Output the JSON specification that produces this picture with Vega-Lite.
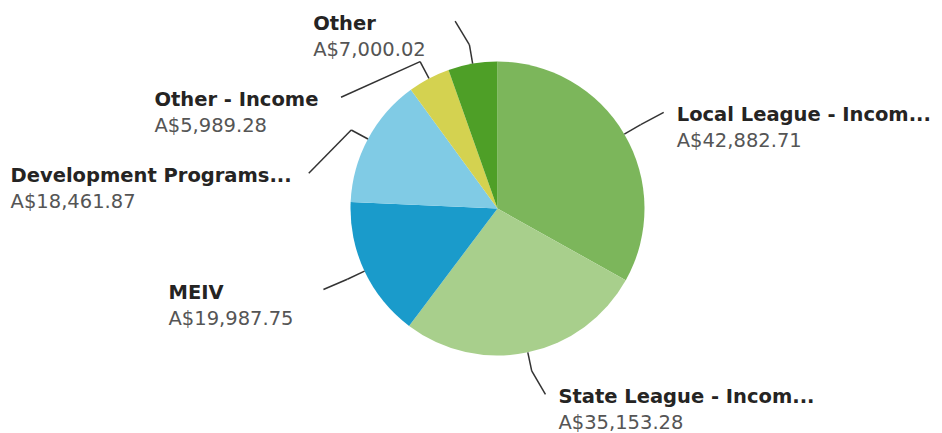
{
  "$schema": "https://vega.github.io/schema/vega-lite/v6.json",
  "width": 942,
  "height": 433,
  "autosize": {"type": "none"},
  "padding": 0,
  "background": "white",
  "config": {"view": {"stroke": null}},
  "data": {"values": [
    {"name": "Local League - Incom...", "value": 42882.71},
    {"name": "State League - Incom...", "value": 35153.28},
    {"name": "MEIV", "value": 19987.75},
    {"name": "Development Programs...", "value": 18461.87},
    {"name": "Other - Income", "value": 5989.28},
    {"name": "Other", "value": 7000.02}
  ]},
  "transform": [
    {"window": [{"op": "row_number", "as": "idx"}]},
    {"joinaggregate": [{"op": "sum", "field": "value", "as": "total"}]},
    {"window": [{"op": "sum", "field": "value", "as": "cum"}], "sort": [{"field": "idx"}], "frame": [null, 0]},
    {"calculate": "(datum.cum - datum.value/2)/datum.total*2*PI", "as": "a"},
    {"calculate": "147*sin(datum.a)", "as": "x1"},
    {"calculate": "147*cos(datum.a)", "as": "y1"},
    {"calculate": "166*sin(datum.a)", "as": "xm"},
    {"calculate": "166*cos(datum.a)", "as": "ym"},
    {"calculate": "sin(datum.a) >= 0 ? 1 : -1", "as": "side"},
    {"calculate": "190*cos(datum.a)", "as": "yr"},
    {"calculate": "datum.side > 0 ? datum.a : 2*PI - datum.a", "as": "key"},
    {"window": [{"op": "row_number", "as": "rk"}], "groupby": ["side"], "sort": [{"field": "key"}]},
    {"calculate": "datum.yr + datum.rk*76", "as": "k"},
    {"window": [{"op": "min", "field": "k", "as": "km"}], "groupby": ["side"], "sort": [{"field": "key"}], "frame": [null, 0]},
    {"calculate": "datum.km - datum.rk*76", "as": "y3"},
    {"calculate": "datum.side*max(abs(datum.xm)+12, sqrt(max(0, 192*192 - datum.y3*datum.y3)))", "as": "x3"},
    {"calculate": "'A$' + format(datum.value, ',.2f')", "as": "vtext"},
    {"calculate": "max(length(datum.name)*12.4, length(datum.vtext)*12.9)", "as": "w"},
    {"calculate": "datum.side > 0 ? datum.x3 + 13 : datum.x3 - 13 - datum.w", "as": "tx"},
    {"calculate": "datum.y3 - 3", "as": "ty1"},
    {"calculate": "datum.y3 - 29", "as": "ty2"}
  ],
  "layer": [
    {
      "mark": {"type": "arc", "outerRadius": 147},
      "encoding": {
        "theta": {"field": "value", "type": "quantitative", "stack": true},
        "order": {"field": "idx", "type": "quantitative"},
        "color": {
          "field": "name", "type": "nominal", "legend": null,
          "scale": {
            "domain": ["Local League - Incom...", "State League - Incom...", "MEIV", "Development Programs...", "Other - Income", "Other"],
            "range": ["#7cb65b", "#a8cf8c", "#1a9bcb", "#80cbe5", "#d4d250", "#4e9f27"]
          }
        },
        "x": {"datum": 0, "type": "quantitative", "scale": {"domain": [-497.5, 444.5], "nice": false, "zero": false}, "axis": null},
        "y": {"datum": 0, "type": "quantitative", "scale": {"domain": [-224.5, 208.5], "nice": false, "zero": false}, "axis": null}
      }
    },
    {
      "mark": {"type": "rule", "color": "#333333", "strokeWidth": 1.5},
      "encoding": {
        "x": {"field": "x1", "type": "quantitative"},
        "y": {"field": "y1", "type": "quantitative"},
        "x2": {"field": "xm"},
        "y2": {"field": "ym"}
      }
    },
    {
      "mark": {"type": "rule", "color": "#333333", "strokeWidth": 1.5},
      "encoding": {
        "x": {"field": "xm", "type": "quantitative"},
        "y": {"field": "ym", "type": "quantitative"},
        "x2": {"field": "x3"},
        "y2": {"field": "y3"}
      }
    },
    {
      "mark": {"type": "text", "align": "left", "baseline": "middle", "font": "DejaVu Sans", "fontSize": 19.5, "fontWeight": "bold", "color": "#252423"},
      "encoding": {
        "x": {"field": "tx", "type": "quantitative"},
        "y": {"field": "ty1", "type": "quantitative"},
        "text": {"field": "name"}
      }
    },
    {
      "mark": {"type": "text", "align": "left", "baseline": "middle", "font": "DejaVu Sans", "fontSize": 19.5, "color": "#555555"},
      "encoding": {
        "x": {"field": "tx", "type": "quantitative"},
        "y": {"field": "ty2", "type": "quantitative"},
        "text": {"field": "vtext"}
      }
    }
  ]
}
